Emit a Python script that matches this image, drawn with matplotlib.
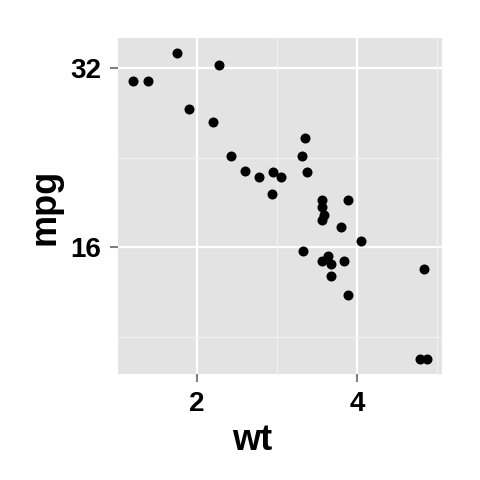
import numpy as np
import matplotlib
matplotlib.use("Agg")
import matplotlib.pyplot as plt

wt = [2.620, 2.875, 2.320, 3.215, 3.440, 3.460, 3.570, 3.190, 3.150, 3.440, 3.440,
      4.070, 3.730, 3.780, 5.250, 5.424, 5.345, 2.200, 1.615, 1.835, 2.465, 3.520,
      3.435, 3.840, 3.845, 1.935, 2.140, 1.513, 3.170, 2.770, 3.570, 2.780]
mpg = [21.0, 21.0, 22.8, 21.4, 18.7, 18.1, 14.3, 24.4, 22.8, 19.2, 17.8,
       16.4, 17.3, 15.2, 10.4, 10.4, 14.7, 32.4, 30.4, 33.9, 21.5, 15.5,
       15.2, 13.3, 19.2, 27.3, 26.0, 30.4, 15.8, 19.7, 15.0, 21.4]
x_ticks = [2, 4]
y_ticks = [16, 32]

plt.rcParams['font.family'] = ['Liberation Sans', 'DejaVu Sans']

W, H = 480, 480
fig = plt.figure(figsize=(4.8, 4.8), dpi=100)
ax = fig.add_axes([118 / W, 1 - 374 / H, (442 - 118) / W, (374 - 38) / H])
ax.set_facecolor('#E3E3E3')

ax.set_xscale('log', base=2)
ax.set_yscale('log', base=2)

lx = np.log2(wt)
ly = np.log2(mpg)
ex = 0.05 * (lx.max() - lx.min())
ey = 0.05 * (ly.max() - ly.min())
ax.set_xlim(2 ** (lx.min() - ex), 2 ** (lx.max() + ex))
ax.set_ylim(2 ** (ly.min() - ey), 2 ** (ly.max() + ey))

ax.set_xticks(x_ticks)
ax.set_xticklabels([str(v) for v in x_ticks])
ax.set_yticks(y_ticks)
ax.set_yticklabels([str(v) for v in y_ticks])
ax.set_xticks([2 * np.sqrt(2), 4 * np.sqrt(2)], minor=True)
ax.set_yticks([8 * np.sqrt(2), 16 * np.sqrt(2)], minor=True)
ax.set_xticklabels([], minor=True)
ax.set_yticklabels([], minor=True)

ax.grid(True, which='major', color='white', linewidth=1.6)
ax.grid(True, which='minor', color='#F0F0F0', linewidth=0.9)
ax.set_axisbelow(True)

for s in ax.spines.values():
    s.set_visible(False)

ax.tick_params(which='major', length=6, width=1.5, color='#7F7F7F',
               labelsize=20, labelcolor='black')
ax.tick_params(axis='y', which='major', pad=6)
ax.tick_params(axis='x', which='major', pad=6.5)
ax.tick_params(which='minor', length=0)
for lab in ax.get_xticklabels() + ax.get_yticklabels():
    lab.set_fontweight('bold')

ax.scatter(wt, mpg, s=52, color='black', zorder=3, linewidths=0)

fig.text(252 / W, 1 - 440 / H, 'wt', ha='center', va='center',
         fontsize=26, fontweight='bold')
fig.text(45 / W, 1 - 207 / H, 'mpg', ha='center', va='center', rotation=90,
         fontsize=26, fontweight='bold')

fig.savefig('out.png', dpi=100, facecolor='white')
